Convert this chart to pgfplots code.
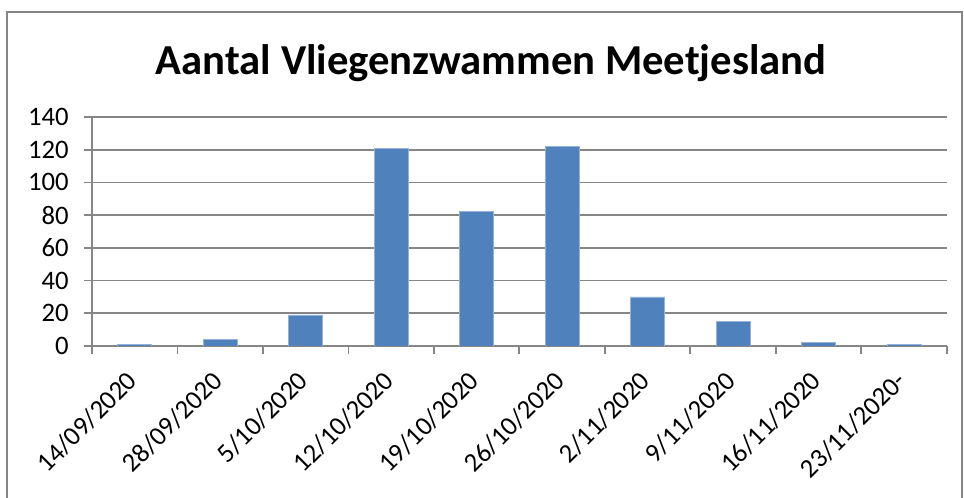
\documentclass[border=0pt]{standalone}
\usepackage{pgfplots}
\pgfplotsset{compat=1.18}
\usepackage{fontspec}
\setmainfont{Carlito}
\definecolor{barblue}{HTML}{4F81BD}
\definecolor{gridgray}{HTML}{868686}
\begin{document}
\begin{tikzpicture}
\path[use as bounding box] (0,0) rectangle (723pt,373.5pt);
\draw[gridgray, line width=1.3pt] (5pt,-5pt) -- (5pt,364.5pt) -- (721.5pt,364.5pt) -- (721.5pt,-5pt);
\node[font=\bfseries\fontsize{32}{38}\selectfont] at (368.5pt,326pt) {Aantal Vliegenzwammen Meetjesland};
\begin{axis}[
  at={(69pt,114pt)}, anchor=south west,
  scale only axis, width=641pt, height=171.75pt,
  xmin=-0.5, xmax=9.5, ymin=0, ymax=140,
  ytick={0,20,...,140},
  xtick={0,...,9},
  xticklabels={14/09/2020,28/09/2020,5/10/2020,12/10/2020,19/10/2020,26/10/2020,2/11/2020,9/11/2020,16/11/2020,23/11/2020-},
  x tick label style={xshift=-7pt, yshift=-10pt, rotate=45, anchor=north east, font=\fontsize{20}{24}\selectfont, inner sep=1pt},
  y tick label style={font=\fontsize{20}{24}\selectfont, xshift=-8pt},
  /pgf/number format/assume math mode=true,
  axis x line*=bottom, axis y line*=left,
  axis line style={gridgray, line width=1.3pt, -},
  ymajorgrids, grid style={gridgray, line width=1.3pt},
  major tick length=6pt,
  xtick style={draw=none},
  ytick style={gridgray, line width=1.3pt},
  tick align=outside,
  extra x ticks={-0.5,0.5,...,9.5}, extra x tick labels={},
  extra x tick style={xtick style={draw=gridgray, line width=1.3pt}, major tick length=6pt, grid=none},
  ybar, bar width=25.5pt,
]
\addplot[fill=barblue, draw=barblue!60!white, line width=0.6pt] coordinates {
(0,1) (1,4) (2,19) (3,121) (4,82) (5,122) (6,30) (7,15) (8,2) (9,1)};
\end{axis}
\end{tikzpicture}
\end{document}
